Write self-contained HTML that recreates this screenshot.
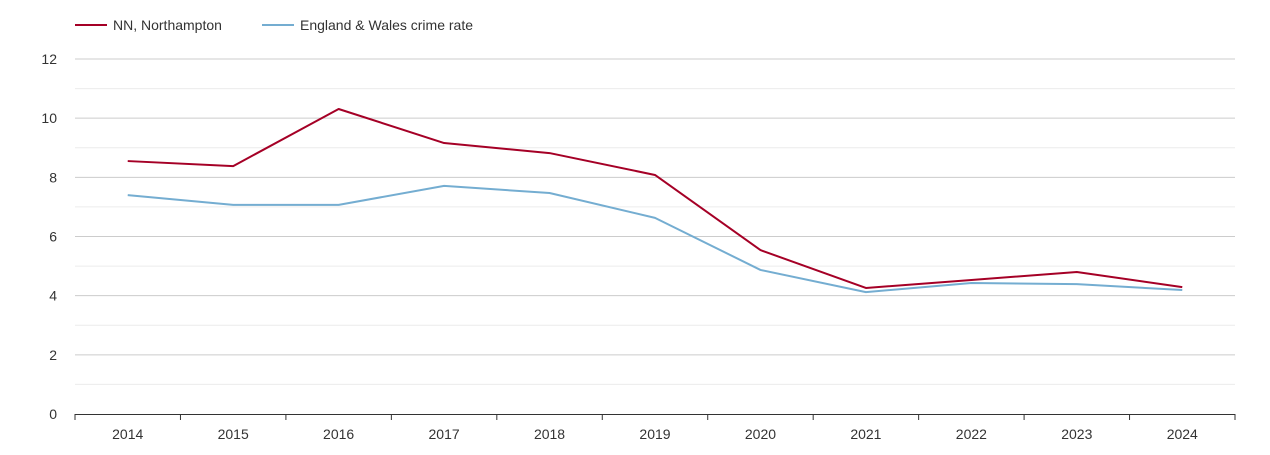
<!DOCTYPE html>
<html><head><meta charset="utf-8"><style>
body{margin:0;background:#fff;font-family:"Liberation Sans",sans-serif;}
svg text{font-family:"Liberation Sans",sans-serif;}
</style></head><body>
<svg id="chart" width="1270" height="450">
<g id="legend">
<g><line x1="75" y1="25" x2="107" y2="25" stroke="#a50026" stroke-width="2"/><text x="113" y="30" font-size="14" fill="#333">NN, Northampton</text></g>
<g><line x1="262" y1="25" x2="294" y2="25" stroke="#74add1" stroke-width="2"/><text x="300" y="30" font-size="14" fill="#333">England &amp; Wales crime rate</text></g>
</g>
<g id="grid"></g>
<g id="yaxis"></g>
<g id="xaxis"></g>
<g id="series"></g>
</svg>
<script>
const years = [2014,2015,2016,2017,2018,2019,2020,2021,2022,2023,2024];
const northampton = [8.55,8.38,10.31,9.16,8.82,8.08,5.54,4.26,4.53,4.80,4.29];
const englandWales = [7.40,7.07,7.07,7.71,7.47,6.63,4.87,4.12,4.43,4.39,4.19];
const yTicks = [0,2,4,6,8,10,12];
const NS="http://www.w3.org/2000/svg";
const L=75,R=1235,T=59,B=414,yMax=12;
const step=(R-L)/years.length;
const xs=i=>L+step*(i+0.5);
const ys=v=>B-(v/yMax)*(B-T);
function mk(tag,attrs,parent){const e=document.createElementNS(NS,tag);for(const k in attrs)e.setAttribute(k,attrs[k]);parent.appendChild(e);return e;}
const grid=document.getElementById('grid'),ya=document.getElementById('yaxis'),xa=document.getElementById('xaxis'),se=document.getElementById('series');
for(let v=1;v<=yMax;v+=2){const l=mk('line',{x1:L,x2:R,y1:ys(v),y2:ys(v),stroke:'#ececec','stroke-width':1},grid);

}
yTicks.forEach(v=>{if(v>0){const l=mk('line',{x1:L,x2:R,y1:ys(v),y2:ys(v),stroke:'#ccc','stroke-width':1},grid);

}
const t=mk('text',{x:57,y:ys(v)+5,'text-anchor':'end','font-size':14,fill:'#333'},ya);t.textContent=v;

});
const ax=mk('line',{x1:L,x2:R,y1:B+0.5,y2:B+0.5,stroke:'#333','stroke-width':1},xa);


for(let i=0;i<=years.length;i++){const tk=mk('line',{x1:L+step*i,x2:L+step*i,y1:B,y2:B+6,stroke:'#333'},xa);

}
years.forEach((y,i)=>{const t=mk('text',{x:xs(i),y:439,'text-anchor':'middle','font-size':14,fill:'#333'},xa);t.textContent=y;

});
function line(data,color,name){const p=mk('polyline',{points:data.map((v,i)=>xs(i)+','+ys(v)).join(' '),fill:'none',stroke:color,'stroke-width':2,'stroke-linejoin':'round'},se);

}
line(englandWales,'#74add1','england-wales-line');
line(northampton,'#a50026','northampton-line');
</script>
</body></html>
